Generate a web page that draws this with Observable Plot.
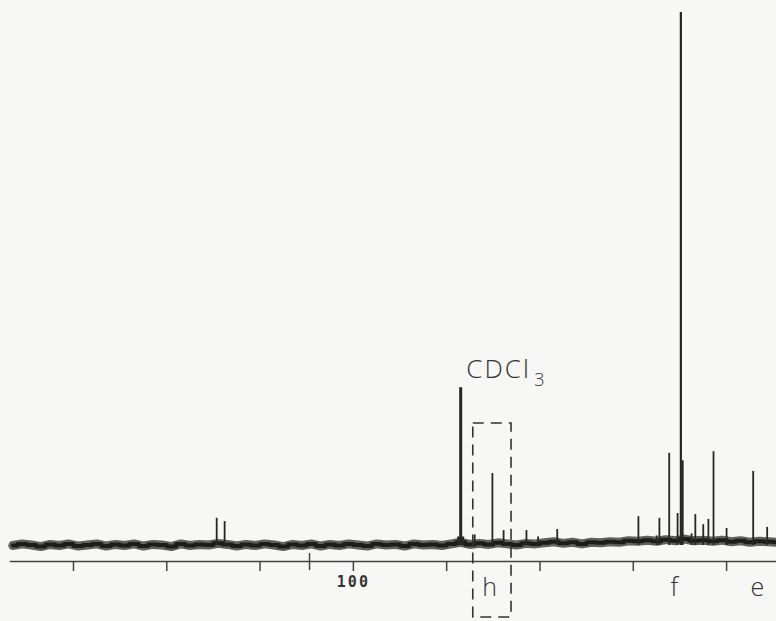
<!DOCTYPE html>
<html><head><meta charset="utf-8">
<script src="https://cdn.jsdelivr.net/npm/d3@7"></script>
<script src="https://cdn.jsdelivr.net/npm/@observablehq/plot@0.6"></script>
<style>
html,body{margin:0;padding:0;background:#f7f7f5;}
</style></head><body><div id="chart"></div>
<script>
// 13C NMR spectrum (ppm, relative intensity; tallest line = 100)
const peakPpm       = [129.3, 127.6, 77.0, 74.0, 70.2, 67.8, 62.9, 60.4, 56.3, 38.9, 35.0, 34.4, 32.3, 30.5, 29.8, 29.4, 27.5, 26.7, 25.0, 23.9, 22.8, 20.0, 14.3, 11.3];
const peakIntensity = [5.1,   4.5,   29.6, 2.0,  13.5, 2.8,  2.8,  1.6,  3.0,  5.4,  1.8,  5.1,  17.3, 6.0,  100,  15.9, 2.2,  5.8,  3.9,  4.9,  17.6, 3.2,  13.9, 3.4];
const solventPpm = 77.0;

// baseline (noise band) read every 2 ppm
const baselinePpm = [173,171,169,167,165,163,161,159,157,155,153,151,149,147,145,143,141,139,137,135,133,131,129,127,125,123,121,119,117,115,113,111,109,107,105,103,101,99,97,95,93,91,89,87,85,83,81,79,77,75,73,71,69,67,65,63,61,59,57,55,53,51,49,47,45,43,41,39,37,35,33,31,29,27,25,23,21,19,17,15,13,11,9];
const baselineLevel = [0.0,0.3,0.1,-0.2,0.2,0.0,0.3,-0.1,0.1,0.3,-0.1,0.2,0.0,0.3,-0.1,0.2,0.1,-0.2,0.3,0.0,0.2,0.1,0.4,0.2,-0.1,0.2,0.0,0.3,0.1,-0.2,0.2,0.0,0.3,-0.1,0.2,0.0,0.3,0.1,-0.1,0.3,0.1,0.2,-0.1,0.3,0.1,0.2,0.0,0.3,0.6,0.2,0.4,0.2,0.5,0.3,0.1,0.4,0.3,0.5,0.7,0.4,0.6,0.3,0.6,0.5,0.7,0.6,0.9,0.8,1.0,0.8,1.1,0.9,1.2,0.9,1.0,0.8,1.0,0.7,0.9,0.6,0.8,0.7,0.6];

// axis
const tickValues = [160, 140, 120, 100, 80, 60, 40, 20];
const tickLabels = ["", "", "", "100", "", "", "", ""];
const markerTickPpm = 109.4;

// annotations
const regionLabels = ["h", "f", "e"];
const regionPpm    = [70.6, 31.0, 13.2];
const boxPpm = [74.3, 66.1];
const solventLabel = "CDCl";
const solventSub = "3";
const solventLabelPpm = 75.8;

const peaks = peakPpm.map((p, i) => ({ppm: p, h: peakIntensity[i]}));
const baseline = baselinePpm.map((p, i) => ({ppm: p, h: baselineLevel[i]}));
const regions = regionLabels.map((t, i) => ({t, ppm: regionPpm[i]}));
const tickMap = new Map(tickValues.map((v, i) => [v, tickLabels[i]]));

const ink = "#262626";
const font = "'Open Sans', 'DejaVu Sans', sans-serif";

const chart = Plot.plot({
  width: 776, height: 621,
  marginLeft: 10, marginRight: 0, marginTop: 0, marginBottom: 60,
  style: {background: "#f7f7f5", fontFamily: font, color: "#333", letterSpacing: "2px"},
  x: {domain: [173.5, 9.3], axis: null},
  y: {domain: [0, 100], range: [545, 12], axis: null},
  marks: [
    Plot.frame({anchor: "bottom", stroke: "#444", strokeWidth: 1.5}),
    Plot.axisX({ticks: tickValues, tickSize: 10, tickPadding: 5, tickFormat: d => tickMap.get(d) ?? "",
      stroke: "#444", strokeWidth: 1.5, fontSize: 15, fill: "#333", fontWeight: "bold", fontFamily: "'DejaVu Sans Mono', monospace"}),
    Plot.ruleX([markerTickPpm], {y1: -1.5, y2: -4.7, stroke: "#444", strokeWidth: 1.5}),
    Plot.lineY(baseline, {x: "ppm", y: "h", stroke: "#3a3a3a", strokeWidth: 9, strokeOpacity: 0.8, curve: "linear"}),
    Plot.lineY(baseline, {x: "ppm", y: "h", stroke: "#1c1c1c", strokeWidth: 4, curve: "step"}),
    Plot.ruleX(peaks, {x: "ppm", y1: 0, y2: "h", stroke: ink, strokeWidth: d => d.h > 90 ? 2.2 : d.ppm === solventPpm ? 3 : 1.8}),
    Plot.ruleX(peaks.filter(d => d.ppm === solventPpm), {x: "ppm", y1: 0, y2: 1.6, stroke: ink, strokeWidth: 7}),
    Plot.rect([{x1: boxPpm[0], x2: boxPpm[1]}], {x1: "x1", x2: "x2", y1: 22.9, y2: -13.5, fill: "none",
      stroke: "#333", strokeWidth: 1.6, strokeDasharray: "11,7"}),
    Plot.text([solventLabel], {x: solventLabelPpm, y: 31.5, text: d => d, textAnchor: "start", lineAnchor: "bottom",
      fontSize: 26, fill: "#333", fontWeight: 300}),
    Plot.text([solventSub], {x: solventLabelPpm, y: 31.5, text: d => d, textAnchor: "start", lineAnchor: "bottom",
      dx: 68, dy: 8, fontSize: 18, fill: "#333", fontWeight: 300}),
    Plot.text(regions, {x: "ppm", y: -9.5, text: "t", lineAnchor: "bottom", fontSize: 25, fill: "#333", fontWeight: 300})
  ]
});
document.getElementById("chart").appendChild(chart);
</script></body></html>
